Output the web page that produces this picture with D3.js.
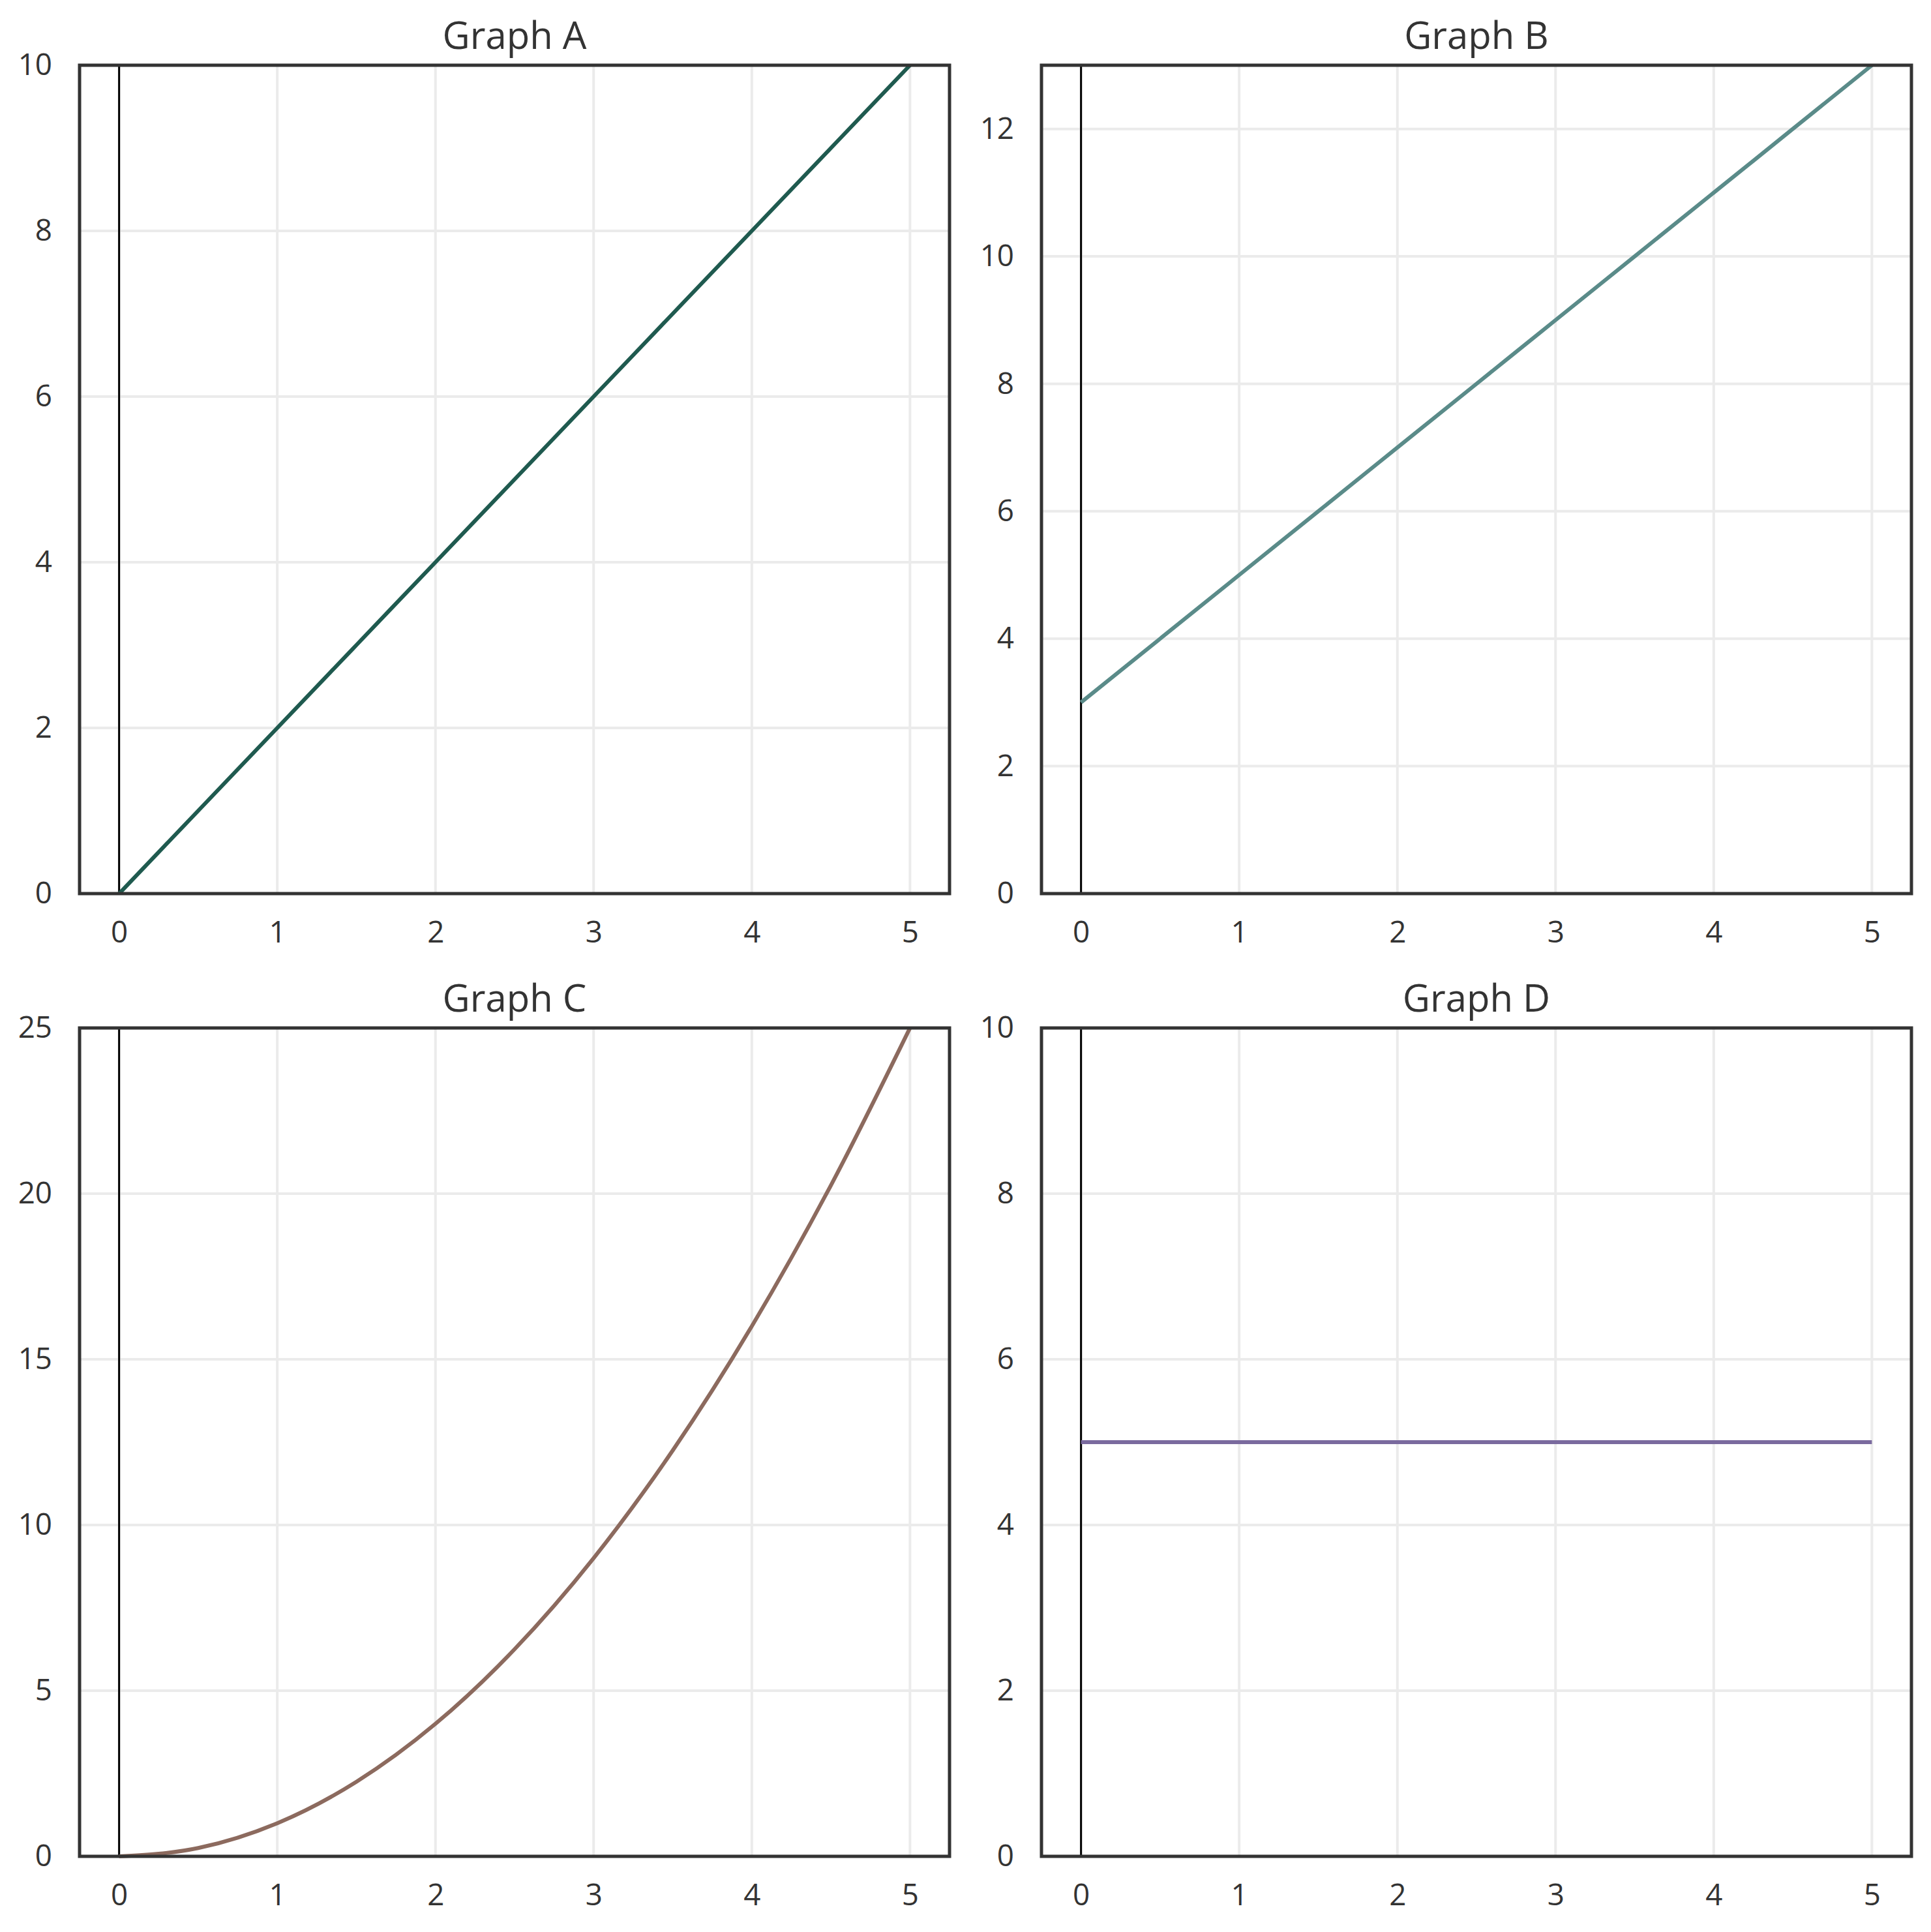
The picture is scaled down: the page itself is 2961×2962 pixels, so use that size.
<!DOCTYPE html>
<html lang="en">
<head>
<meta charset="UTF-8" />
<script src="https://d3js.org/d3.v7.min.js"></script>
<title>Graphs</title>
<style>
  body { margin: 0; background: #fff; }
  text { font-family: "Open Sans", sans-serif; fill: #333; }
</style>
</head>
<body>
<script>
// values
var xValues = [0, 0.5, 1, 1.5, 2, 2.5, 3, 3.5, 4, 4.5, 5];
var graphA = [0, 1, 2, 3, 4, 5, 6, 7, 8, 9, 10];
var graphB = [3, 4, 5, 6, 7, 8, 9, 10, 11, 12, 13];
var graphC = [0, 0.25, 1, 2.25, 4, 6.25, 9, 12.25, 16, 20.25, 25];
var graphD = [5, 5, 5, 5, 5, 5, 5, 5, 5, 5, 5];

var titles = ["Graph A", "Graph B", "Graph C", "Graph D"];
var yMax = [10, 13, 25, 10];
var yTicks = [[0, 2, 4, 6, 8, 10], [0, 2, 4, 6, 8, 10, 12], [0, 5, 10, 15, 20, 25], [0, 2, 4, 6, 8, 10]];
var xTicks = [0, 1, 2, 3, 4, 5];
var colors = ["#1f5a4f", "#5a8b89", "#8c6a5e", "#7a6a9e"];
var series = [graphA, graphB, graphC, graphD];

var W = 2961, H = 2962;
var svg = d3.select("body").append("svg").attr("width", W).attr("height", H);

var pw = 1334, ph = 1270;
var lefts = [122, 1597, 122, 1597];
var tops = [100, 100, 1576, 1576];

for (var i = 0; i < 4; i++) {
  var g = svg.append("g").attr("transform", "translate(" + lefts[i] + "," + tops[i] + ")");
  var x = d3.scaleLinear().domain([-0.25, 5.25]).range([0, pw]);
  var y = d3.scaleLinear().domain([0, yMax[i]]).range([ph, 0]);

  // grid
  g.selectAll(".gx").data(xTicks).enter().append("line")
    .attr("x1", function(d){ return x(d); }).attr("x2", function(d){ return x(d); })
    .attr("y1", 0).attr("y2", ph)
    .attr("stroke", "#ebebeb").attr("stroke-width", 4);
  g.selectAll(".gy").data(yTicks[i]).enter().append("line")
    .attr("x1", 0).attr("x2", pw)
    .attr("y1", function(d){ return y(d); }).attr("y2", function(d){ return y(d); })
    .attr("stroke", "#ebebeb").attr("stroke-width", 4);

  // vertical line at x = 0
  g.append("line").attr("x1", x(0)).attr("x2", x(0)).attr("y1", 0).attr("y2", ph)
    .attr("stroke", "#000").attr("stroke-width", 3);

  var pts = xValues.map(function(v, k){ return [v, series[i][k]]; });
  var line = d3.line().x(function(d){ return x(d[0]); }).y(function(d){ return y(d[1]); })
    .curve(d3.curveMonotoneX);
  g.append("path").datum(pts).attr("d", line)
    .attr("fill", "none").attr("stroke", colors[i]).attr("stroke-width", 6);

  // axes
  var ax = g.append("g").attr("transform", "translate(0," + ph + ")")
    .call(d3.axisBottom(x).tickValues(xTicks).tickSize(0).tickPadding(42).tickFormat(d3.format("d")));
  var ay = g.append("g")
    .call(d3.axisLeft(y).tickValues(yTicks[i]).tickSize(0).tickPadding(42).tickFormat(d3.format("d")));
  [ax, ay].forEach(function(a){
    a.select(".domain").remove();
    a.selectAll("text").attr("font-size", 45.8).attr("font-family", "Open Sans").attr("fill", "#333");
  });

  // frame
  g.append("rect").attr("x", 0).attr("y", 0).attr("width", pw).attr("height", ph)
    .attr("fill", "none").attr("stroke", "#333").attr("stroke-width", 5);

  g.append("text").attr("x", pw / 2).attr("y", -25).attr("text-anchor", "middle")
    .attr("font-size", 58).text(titles[i]);
}
</script>
</body>
</html>
